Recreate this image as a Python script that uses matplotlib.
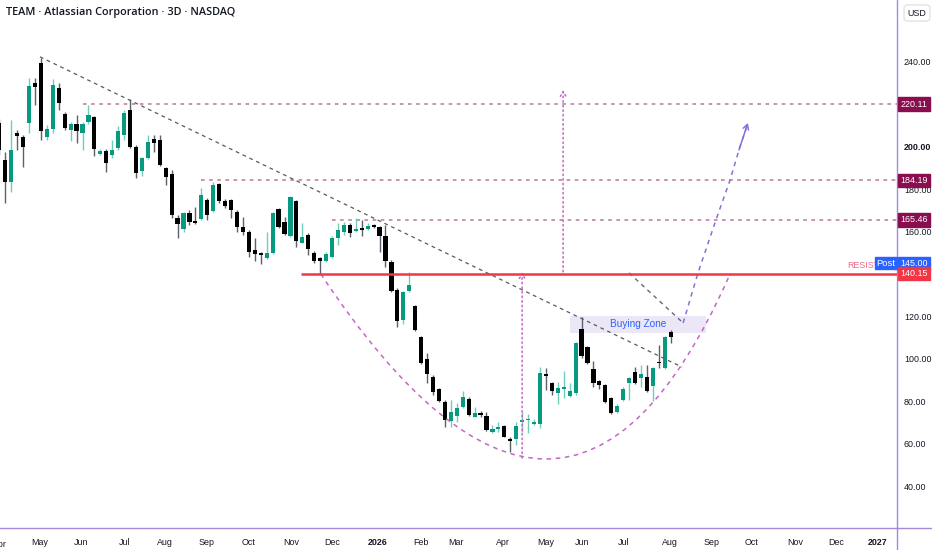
import matplotlib
matplotlib.use('Agg')
import matplotlib.pyplot as plt
from matplotlib.path import Path
from matplotlib.patches import PathPatch, Rectangle
from matplotlib.lines import Line2D

plt.rcParams['font.family'] = ['Liberation Sans', 'DejaVu Sans']

# 3D candles, TEAM
opens = [211.2, 193.8, 183.4, 206.5, 204.6, 211.2, 230.1, 239.5, 204.6, 208.4,
         227.7, 215.5, 207.9, 210.8, 206.5, 211.7, 214.1, 196.6, 198.0, 196.1,
         199.4, 205.6, 217.4, 199.9, 188.6, 194.7, 203.7, 203.2, 190.0, 187.2,
         166.4, 161.2, 168.8, 164.5, 165.9, 174.9, 169.7, 182.5, 174.4, 174.9,
         169.2, 162.2, 159.8, 151.3, 149.9, 147.5, 149.9, 170.7, 164.5, 157.9,
         174.4, 154.6, 158.4, 149.9, 147.5, 146.1, 148.0, 157.0, 159.8, 163.1,
         160.3, 161.7, 161.2, 163.1, 162.2, 157.9, 145.7, 132.5, 118.3, 132.0,
         124.9, 110.3, 99.9, 91.4, 85.8, 79.6, 70.7, 73.0, 77.3, 81.0,
         72.5, 74.4, 73.0, 65.5, 66.9, 68.3, 62.2, 62.2, 70.2, 71.1,
         69.2, 69.2, 92.8, 88.6, 83.9, 85.8, 82.5, 83.9, 114.1, 105.6,
         95.2, 89.5, 87.6, 81.5, 74.9, 80.6, 88.6, 93.8, 90.9, 91.4,
         87.2, 98.5, 95.7, 112.6]
highs = [213.0, 197.5, 212.6, 207.9, 205.6, 232.5, 232.5, 241.9, 210.3, 232.0,
         230.1, 216.4, 211.7, 215.0, 211.7, 219.7, 214.5, 199.0, 199.0, 203.2,
         209.8, 217.4, 222.5, 200.8, 195.2, 205.6, 205.6, 205.6, 190.5, 189.1,
         167.8, 169.2, 170.2, 171.6, 180.6, 175.8, 183.4, 182.9, 175.4, 175.4,
         170.2, 166.9, 160.8, 157.0, 150.4, 159.8, 169.2, 171.1, 166.9, 176.8,
         174.9, 164.1, 159.3, 150.8, 148.0, 150.4, 157.9, 164.1, 164.5, 164.1,
         166.4, 165.5, 164.1, 163.6, 162.6, 163.1, 146.6, 133.4, 132.0, 140.9,
         125.4, 110.8, 102.7, 92.4, 86.2, 80.6, 80.6, 79.2, 84.8, 82.0,
         77.3, 75.4, 74.9, 68.8, 70.2, 68.8, 63.1, 70.2, 74.9, 74.0,
         71.6, 96.1, 95.7, 89.1, 89.1, 94.2, 88.6, 107.9, 119.7, 106.1,
         99.0, 90.0, 88.1, 82.0, 78.7, 86.7, 91.4, 96.1, 97.1, 97.1,
         96.1, 106.5, 110.8, 113.6]
lows = [196.0, 173.5, 178.7, 198.5, 190.5, 206.5, 219.7, 203.2, 203.2, 206.5,
        217.4, 207.9, 202.7, 201.8, 198.5, 210.8, 195.7, 196.1, 188.1, 194.7,
        198.5, 203.2, 199.4, 185.3, 186.2, 194.2, 197.5, 191.0, 182.0, 166.4,
        157.0, 159.8, 163.1, 163.6, 165.5, 165.5, 169.2, 173.5, 171.1, 166.4,
        159.8, 158.4, 148.0, 146.1, 144.7, 147.1, 149.4, 161.7, 158.4, 157.5,
        152.7, 154.6, 149.0, 145.2, 140.0, 145.7, 147.5, 153.7, 158.4, 157.5,
        159.8, 157.9, 160.8, 161.7, 150.4, 143.3, 131.5, 115.0, 116.4, 131.5,
        113.2, 97.5, 88.6, 82.9, 79.6, 67.8, 67.8, 70.2, 76.8, 73.0,
        72.5, 72.5, 65.9, 65.0, 65.5, 62.9, 56.0, 59.3, 65.5, 65.0,
        68.8, 67.3, 85.3, 82.9, 78.7, 81.5, 82.0, 82.9, 100.4, 97.5,
        86.7, 85.8, 79.2, 74.0, 74.4, 80.1, 80.6, 88.1, 86.7, 84.3,
        80.1, 95.7, 95.2, 107.5]
closes = [198.5, 183.4, 198.5, 205.1, 199.9, 228.7, 228.2, 207.5, 208.4, 229.2,
          220.7, 208.9, 210.8, 207.5, 210.8, 215.0, 199.0, 198.0, 192.4, 198.5,
          207.5, 215.9, 199.9, 187.6, 194.7, 202.3, 201.8, 191.4, 185.8, 167.8,
          163.6, 168.8, 164.5, 164.1, 177.3, 167.8, 182.0, 174.4, 172.1, 170.2,
          162.2, 159.8, 150.4, 149.4, 149.0, 149.9, 168.8, 162.2, 158.9, 176.3,
          155.6, 157.5, 151.8, 146.1, 146.1, 149.4, 157.0, 160.8, 163.1, 159.3,
          161.2, 160.8, 162.6, 162.2, 157.9, 146.1, 132.0, 117.8, 131.5, 134.8,
          113.6, 98.0, 92.8, 84.3, 80.1, 71.1, 74.9, 76.8, 82.0, 73.5,
          74.4, 73.5, 66.4, 66.9, 67.8, 63.1, 61.2, 68.3, 71.1, 71.6,
          70.2, 93.3, 91.9, 84.8, 86.2, 86.2, 84.8, 107.5, 101.3, 98.0,
          88.6, 87.6, 79.6, 74.4, 77.7, 85.8, 90.9, 88.6, 92.8, 84.8,
          95.7, 98.0, 110.3, 110.3]

# month labels (bar index where the label sits)
month_pos = [6.8, 13.7, 21.0, 27.9, 34.8, 41.9, 49.1, 56.0, 63.6, 71.0, 76.9,
             84.8, 91.9, 98.1, 105.0, 112.9, 119.8, 126.7, 133.9, 140.8, 147.9]
month_lbl = ['May', 'Jun', 'Jul', 'Aug', 'Sep', 'Oct', 'Nov', 'Dec', '2026', 'Feb', 'Mar',
             'Apr', 'May', 'Jun', 'Jul', 'Aug', 'Sep', 'Oct', 'Nov', 'Dec', '2027']
price_ticks = [40, 60, 80, 100, 120, 160, 180, 200, 240]

# drawings
trend_x = [6.84, 114.9]
trend_y = [242.4, 96.1]
levels = [220.11, 184.19, 165.46]
level_start = [14.1, 34.0, 56.0]
resistance = 140.15
resistance_start = 50.8
post_price = 145.00
cup_x = [54.1, 95.3, 122.7]      # quadratic curve: start, control, end
cup_y = [140.0, -33.6, 138.1]
proj_x = [115.1, 117.6, 120.8, 123.0, 124.5, 126.0]
proj_y = [116.9, 140.5, 166.9, 184.3, 198.5, 211.2]
pull_x = [106.0, 115.1]
pull_y = [140.5, 116.9]
arrow1 = (94.9, 141.0, 226.8)   # x, from, to
arrow2 = (88.0, 53.2, 140.9)
zone_x = [96.1, 119.0]
zone_y = [112.2, 120.2]

UP = '#089981'
UP_WICK = '#72cdb8'
DN = '#000000'
DN_WICK = '#5d606b'
AXIS = '#a68ad8'
PINK = '#c98aab'
MAG = '#c466c4'
FS = 6.4

fig = plt.figure(figsize=(9.32, 5.5), dpi=100)
ax = fig.add_axes([0.0, 22 / 550, 897 / 932, 528 / 550])

for i in range(len(opens)):
    o, h, l, c = opens[i], highs[i], lows[i], closes[i]
    up = c >= o
    ax.vlines(i, l, h, color=UP_WICK if up else DN_WICK, lw=1, zorder=3)
    ax.bar(i, max(abs(c - o), 0.7), bottom=min(o, c), width=0.7,
           color=UP if up else DN, zorder=4, linewidth=0)

# trendline
ax.plot(trend_x, trend_y, color='#5a5a5a', lw=0.9, ls=(0, (3, 3)), zorder=5)

# levels
for lv, st in zip(levels, level_start):
    ax.hlines(lv, st, 160, color=PINK, lw=1.3, linestyles=(0, (2, 2.5)), zorder=2)
ax.hlines(resistance, resistance_start, 160, color='#f23645', lw=1.8, zorder=6)
ax.text(142.8, resistance + 1.6, 'RESISTANCE', color='#ee6a88', fontsize=FS,
        ha='left', va='bottom', zorder=6)

# cup curve
cup = Path(list(zip(cup_x, cup_y)), [Path.MOVETO, Path.CURVE3, Path.CURVE3])
ax.add_patch(PathPatch(cup, fill=False, ec=MAG, lw=1.1, ls=(0, (3, 3)), zorder=5))

# projection arrows
ax.plot(proj_x, proj_y, color='#8a6fd6', lw=1.1, ls=(0, (3, 3)), zorder=5)
ax.annotate('', xy=(proj_x[-1], proj_y[-1]), xytext=(proj_x[-2], proj_y[-2]),
            arrowprops=dict(arrowstyle='->,head_length=0.35,head_width=0.2',
                            color='#8a6fd6', lw=1.1, shrinkA=0, shrinkB=0), zorder=5)
ax.plot(pull_x, pull_y, color='#6f6280', lw=1.0, ls=(0, (3, 3)), zorder=5)
for ax_x, y0, y1 in (arrow1, arrow2):
    ax.annotate('', xy=(ax_x, y1), xytext=(ax_x, y0),
                arrowprops=dict(arrowstyle='->,head_length=0.35,head_width=0.2',
                                color=MAG, lw=1.1, ls=(0, (1, 2)),
                                shrinkA=0, shrinkB=0), zorder=5)

# buying zone
ax.add_patch(Rectangle((zone_x[0], zone_y[0]), zone_x[1] - zone_x[0], zone_y[1] - zone_y[0],
                       fc='#ebe7f6', ec='none', zorder=1))
ax.text(sum(zone_x) / 2, sum(zone_y) / 2, 'Buying Zone', color='#2962ff', fontsize=7.2,
        ha='center', va='center', zorder=7)

ax.set_xlim(0.11, 151.1)
ax.set_ylim(20.2, 269.2)

ax.yaxis.tick_right()
ax.set_yticks(price_ticks)
ax.set_yticklabels(['%.2f' % p for p in price_ticks])
for t in ax.get_yticklabels():
    if t.get_text() == '200.00':
        t.set_fontweight('bold')
ax.set_xticks(month_pos)
ax.set_xticklabels(month_lbl)
for t in ax.get_xticklabels():
    if t.get_text() in ('2026', '2027'):
        t.set_fontweight('bold')
ax.tick_params(axis='both', length=0, labelsize=FS, colors='#131722')
ax.tick_params(axis='y', pad=5)
ax.tick_params(axis='x', pad=7)
ax.text(0.1, -0.022, 'Apr', transform=ax.get_xaxis_transform(), fontsize=FS,
        color='#131722', ha='center', va='top', clip_on=False)

for s in ('top', 'left'):
    ax.spines[s].set_visible(False)
for s in ('right', 'bottom'):
    ax.spines[s].set_color(AXIS)
    ax.spines[s].set_linewidth(1)
fig.add_artist(Line2D([897 / 932, 897 / 932], [0, 22 / 550], color=AXIS, lw=1))
fig.add_artist(Line2D([897 / 932, 1], [22 / 550, 22 / 550], color=AXIS, lw=1))

# price labels on the scale
def tag(price, text, fc):
    ax.annotate(text, xy=(1.0, price), xycoords=('axes fraction', 'data'),
                xytext=(2.5, 0), textcoords='offset points', ha='left', va='center',
                color='white', fontsize=FS, zorder=10, annotation_clip=False,
                bbox=dict(boxstyle='square,pad=0.25', fc=fc, ec=fc))

for lv in levels:
    tag(lv, '%.2f' % lv, '#880e4f')
tag(post_price, '%.2f' % post_price, '#2962ff')
tag(resistance, '%.2f' % resistance, '#f23645')
ax.annotate('Post', xy=(1.0, post_price), xycoords=('axes fraction', 'data'),
            xytext=(-1, 0), textcoords='offset points', ha='right', va='center',
            color='white', fontsize=FS + 0.4, zorder=10, annotation_clip=False,
            bbox=dict(boxstyle='square,pad=0.15', fc='#2962ff', ec='#2962ff'))

fig.text(6 / 932, 1 - 13 / 550, 'TEAM · Atlassian Corporation · 3D · NASDAQ',
         fontsize=7.8, color='#131722', ha='left', va='center',
         family=['Open Sans', 'DejaVu Sans'], fontweight='semibold')
fig.text(917 / 932, 1 - 13 / 550, 'USD', fontsize=FS, color='#131722', ha='center', va='center',
         bbox=dict(boxstyle='round,pad=0.4', fc='white', ec='#e0e3eb'))

fig.savefig('out.png', dpi=100)
